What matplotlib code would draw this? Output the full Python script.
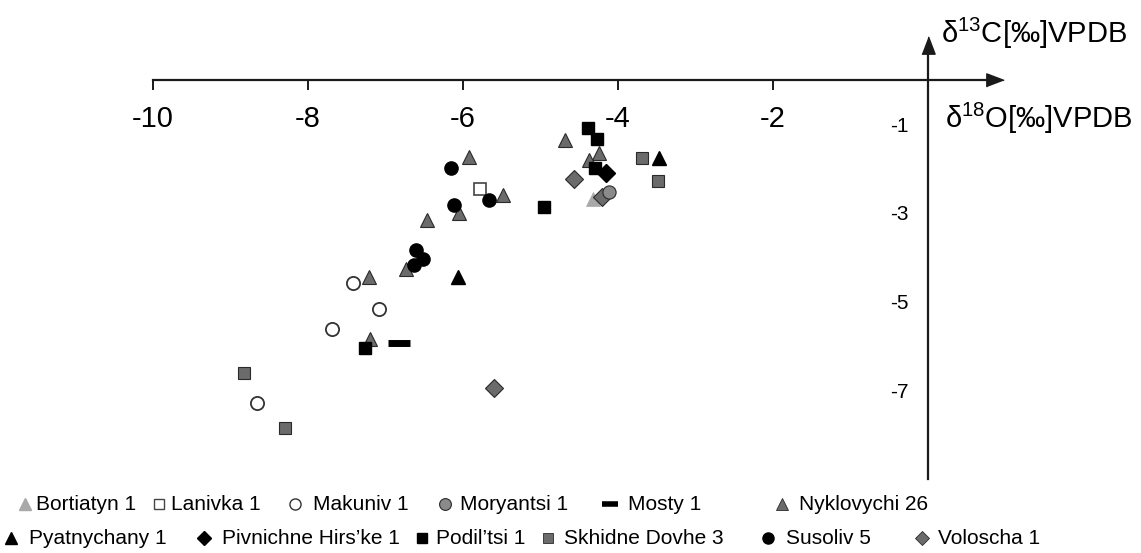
import matplotlib
matplotlib.use("Agg")
import matplotlib.pyplot as plt
from matplotlib.lines import Line2D

plt.rcParams['font.family'] = ['Liberation Sans', 'DejaVu Sans']
plt.rcParams['mathtext.fontset'] = 'custom'
plt.rcParams['mathtext.rm'] = 'Liberation Sans'
plt.rcParams['mathtext.it'] = 'Liberation Sans'

# ---- data (d18O, d13C) ----
bortiatyn_x = [-4.32]
bortiatyn_y = [-2.69]
lanivka_x = [-5.78]
lanivka_y = [-2.45]
makuniv_x = [-7.42, -7.08, -7.69, -8.66]
makuniv_y = [-4.59, -5.17, -5.62, -7.30]
moryantsi_x = [-4.12]
moryantsi_y = [-2.52]
mosty_x = [-6.82]
mosty_y = [-5.93]
nyklovychi_x = [-5.92, -6.05, -6.46, -5.49, -6.73, -7.21, -7.20, -4.68, -4.24, -4.37]
nyklovychi_y = [-1.74, -3.00, -3.15, -2.60, -4.27, -4.44, -5.85, -1.35, -1.64, -1.81]
pyatnychany_x = [-6.06, -3.47]
pyatnychany_y = [-4.44, -1.77]
pivnichne_x = [-4.15]
pivnichne_y = [-2.09]
podiltsi_x = [-4.39, -4.27, -4.30, -4.96, -7.26]
podiltsi_y = [-1.08, -1.34, -1.99, -2.86, -6.06]
skhidne_x = [-3.69, -3.49, -8.83, -8.30]
skhidne_y = [-1.77, -2.27, -6.62, -7.85]
susoliv_x = [-6.15, -5.66, -6.12, -6.60, -6.52, -6.63]
susoliv_y = [-1.99, -2.71, -2.82, -3.84, -4.03, -4.18]
voloscha_x = [-4.57, -4.21, -5.60]
voloscha_y = [-2.23, -2.65, -6.96]

x_ticks = [-10, -8, -6, -4, -2]
y_ticks = [-1, -3, -5, -7]

W, H = 1141, 553
fig = plt.figure(figsize=(W / 100, H / 100), dpi=100)
ax = fig.add_axes([0, 0, 1, 1])
# pixel mapping: x_px = 928 + 77.5*x ; y_px(from top) = 80 - 44.3*y
sx, x0 = 77.5, 928
sy, y0 = 44.3, 80
ax.set_xlim((0 - x0) / sx, (W - x0) / sx)
ax.set_ylim(-(H - y0) / sy, y0 / sy)
ax.patch.set_alpha(0)

AX_C = '#1a1a1a'
for s in ['top', 'right']:
    ax.spines[s].set_visible(False)
ax.spines['left'].set_position(('data', 0))
ax.spines['bottom'].set_position(('data', 0))
ax.spines['left'].set_bounds(-9.0, 0.78)
ax.spines['bottom'].set_bounds(-10, 0.86)
for s in ['left', 'bottom']:
    ax.spines[s].set_linewidth(1.6)
    ax.spines[s].set_color(AX_C)
up_head = [(-0.38, -0.5), (0.38, -0.5), (0, 0.5)]
right_head = [(-0.5, -0.38), (-0.5, 0.38), (0.5, 0)]
ax.plot([0.86], [0], marker=right_head, color=AX_C, ms=12.5, clip_on=False)
ax.plot([0], [0.78], marker=up_head, color=AX_C, ms=12.5, clip_on=False)

ax.set_xticks(x_ticks)
ax.set_xticklabels([str(t) for t in x_ticks])
ax.set_yticks(y_ticks)
ax.set_yticklabels([str(t) for t in y_ticks])
ax.tick_params(axis='x', direction='out', length=7, width=1.4, pad=11, labelsize=21, color=AX_C)
ax.tick_params(axis='y', length=0, pad=14, labelsize=15)

ax.text(0.17, 1.06, r'δ$^{13}$C[‰]VPDB', fontsize=21, ha='left', va='center')
ax.text(0.22, -0.86, r'δ$^{18}$O[‰]VPDB', fontsize=21, ha='left', va='center')

GRAY = '#6b6b6b'
EDGE = '#2a2a2a'
series = [
    (nyklovychi_x, nyklovychi_y, dict(marker='^', ms=10.5, mfc=GRAY, mec=EDGE, mew=0.8)),
    (bortiatyn_x, bortiatyn_y, dict(marker='^', ms=10.5, mfc='#a8a8a8', mec='#a8a8a8', mew=0.5)),
    (lanivka_x, lanivka_y, dict(marker='s', ms=9, mfc='white', mec='#444444', mew=1.2)),
    (makuniv_x, makuniv_y, dict(marker='o', ms=9.5, mfc='white', mec='#333333', mew=1.3)),
    (mosty_x, mosty_y, dict(marker='_', ms=16, mec='black', mew=5)),
    (pyatnychany_x, pyatnychany_y, dict(marker='^', ms=10.5, mfc='black', mec='black')),
    (podiltsi_x, podiltsi_y, dict(marker='s', ms=9, mfc='black', mec='black')),
    (skhidne_x, skhidne_y, dict(marker='s', ms=9, mfc=GRAY, mec=EDGE, mew=0.8)),
    (susoliv_x, susoliv_y, dict(marker='o', ms=9.5, mfc='black', mec='black')),
    (voloscha_x, voloscha_y, dict(marker='D', ms=9.5, mfc=GRAY, mec=EDGE, mew=0.8)),
    (pivnichne_x, pivnichne_y, dict(marker='D', ms=9.5, mfc='black', mec='black')),
    (moryantsi_x, moryantsi_y, dict(marker='o', ms=9.5, mfc='#8a8a8a', mec=EDGE, mew=0.8)),
]
for xs, ys, st in series:
    ax.plot(xs, ys, ls='none', **st)

# ---- legend (manual placement in pixels) ----
legend_names = ['Bortiatyn 1', 'Lanivka 1', 'Makuniv 1', 'Moryantsi 1', 'Mosty 1', 'Nyklovychi 26',
                'Pyatnychany 1', 'Pivnichne Hirs’ke 1', 'Podil’tsi 1', 'Skhidne Dovhe 3', 'Susoliv 5', 'Voloscha 1']
leg_styles = [
    dict(marker='^', ms=8, mfc='#a8a8a8', mec='#a8a8a8'),
    dict(marker='s', ms=7.5, mfc='white', mec='#444444', mew=1.0),
    dict(marker='o', ms=8, mfc='white', mec='#333333', mew=1.0),
    dict(marker='o', ms=8.5, mfc='#8a8a8a', mec=EDGE, mew=0.8),
    dict(marker='_', ms=12, mec='black', mew=4),
    dict(marker='^', ms=8.5, mfc=GRAY, mec=EDGE, mew=0.6),
    dict(marker='^', ms=9, mfc='black', mec='black'),
    dict(marker='D', ms=7.5, mfc='black', mec='black'),
    dict(marker='s', ms=7.5, mfc='black', mec='black'),
    dict(marker='s', ms=7.5, mfc=GRAY, mec=EDGE, mew=0.6),
    dict(marker='o', ms=8, mfc='black', mec='black'),
    dict(marker='D', ms=7.5, mfc=GRAY, mec=EDGE, mew=0.6),
]
leg_marker_x = [25, 159, 295, 445, 610, 782, 11, 204, 422, 548, 768, 922]
leg_text_x = [36, 171, 313, 460, 628, 799, 29, 222, 436, 564, 786, 938]
leg_row_y = [504, 538]
for i, (name, st) in enumerate(zip(legend_names, leg_styles)):
    ry = leg_row_y[0] if i < 6 else leg_row_y[1]
    fy = 1 - ry / H
    fig.add_artist(Line2D([leg_marker_x[i] / W], [fy], transform=fig.transFigure, ls='none', **st))
    fig.text(leg_text_x[i] / W, fy, name, fontsize=15, ha='left', va='center')

fig.savefig('out.png', dpi=100)
